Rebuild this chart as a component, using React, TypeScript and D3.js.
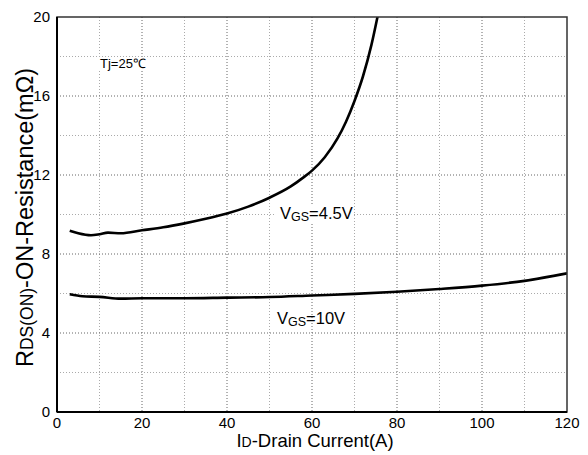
import React from "react";
import * as d3 from "d3";

const I45 = [3, 5, 8, 10, 12, 15, 20, 25, 30, 35, 40, 45, 50, 55, 58, 60, 63, 66, 68, 70, 72, 74, 75.5];
const R45 = [9.18, 9.05, 8.95, 9.0, 9.08, 9.05, 9.2, 9.35, 9.55, 9.78, 10.05, 10.4, 10.85, 11.42, 11.88, 12.22, 12.9, 13.85, 14.7, 15.75, 17.0, 18.6, 20.1];
const I10 = [3, 6, 10, 15, 20, 25, 30, 40, 50, 60, 70, 80, 90, 100, 110, 120];
const R10 = [5.96, 5.86, 5.83, 5.74, 5.76, 5.76, 5.76, 5.79, 5.82, 5.9, 5.98, 6.09, 6.23, 6.4, 6.64, 7.02];
const xTicks = [0, 20, 40, 60, 80, 100, 120];
const yTicks = [0, 4, 8, 12, 16, 20];

export default function App() {
  const W = 588, H = 455;
  const L = 57, R = 567, T = 17, B = 412;
  const x = d3.scaleLinear().domain([0, 120]).range([L, R]);
  const y = d3.scaleLinear().domain([0, 20]).range([B, T]);
  const line = d3
    .line<[number, number]>()
    .x((d) => x(d[0]))
    .y((d) => y(d[1]))
    .curve(d3.curveMonotoneX);
  const d45 = line(I45.map((v, i) => [v, R45[i]]))!;
  const d10 = line(I10.map((v, i) => [v, R10[i]]))!;
  const font = "'Liberation Sans', Arial, sans-serif";
  return (
    <svg
      width={W}
      height={H}
      style={{ position: "absolute", left: 0, top: 0, background: "#fff" }}
      fontFamily={font}
    >
      <defs>
        <clipPath id="pc">
          <rect x={L} y={T} width={R - L} height={B - T} />
        </clipPath>
      </defs>
      {d3.range(10, 120, 10).map((v) => (
        <line
          key={"vx" + v}
          x1={x(v)}
          x2={x(v)}
          y1={T}
          y2={B}
          stroke={v % 20 === 0 ? "#666" : "#aaa"}
          strokeWidth={1}
          strokeDasharray="1,2"
        />
      ))}
      {d3.range(2, 20, 2).map((v) => (
        <line
          key={"hy" + v}
          x1={L}
          x2={R}
          y1={y(v)}
          y2={y(v)}
          stroke={v % 4 === 0 ? "#666" : "#aaa"}
          strokeWidth={1}
          strokeDasharray="1,2"
        />
      ))}
      <rect x={95} y={57} width={63} height={14} fill="#fff" />
      <rect x={276} y={205} width={76} height={18} fill="#fff" />
      <g clipPath="url(#pc)" fill="none" stroke="#000" strokeWidth={2.6} strokeLinejoin="round">
        <path d={d45} />
        <path d={d10} />
      </g>
      <rect x={L} y={T} width={R - L} height={B - T} fill="none" stroke="#333" strokeWidth={1.5} />
      <line x1={L} x2={L} y1={T} y2={B} stroke="#000" strokeWidth={2} />
      <line x1={L} x2={R} y1={B} y2={B} stroke="#000" strokeWidth={2} />
      {xTicks.map((v) => (
        <text key={"xt" + v} x={x(v)} y={428} fontSize={15} textAnchor="middle" fill="#000">
          {v}
        </text>
      ))}
      {yTicks.map((v) => (
        <text key={"yt" + v} x={L - 7} y={y(v) + 5} fontSize={15} textAnchor="end" fill="#000">
          {v}
        </text>
      ))}
      <text x={100} y={68} fontSize={13} fill="#000">Tj=25℃</text>
      <text x={280} y={219} fontSize={16.5} fill="#000">
        V<tspan fontSize={12.5} dy={2}>GS</tspan><tspan dy={-2}>=4.5V</tspan>
      </text>
      <text x={277} y={324} fontSize={16.5} fill="#000">
        V<tspan fontSize={12.5} dy={2}>GS</tspan><tspan dy={-2}>=10V</tspan>
      </text>
      <text x={315} y={447} fontSize={18.5} textAnchor="middle" fill="#000">
        I<tspan fontSize={14}>D</tspan>-Drain Current(A)
      </text>
      <text
        transform={`translate(33, 217.5) rotate(-90)`}
        fontSize={23.5}
        textAnchor="middle"
        fill="#000"
      >
        R<tspan fontSize={17.5}>DS(ON)</tspan>-ON-Resistance(mΩ)
      </text>
    </svg>
  );
}
